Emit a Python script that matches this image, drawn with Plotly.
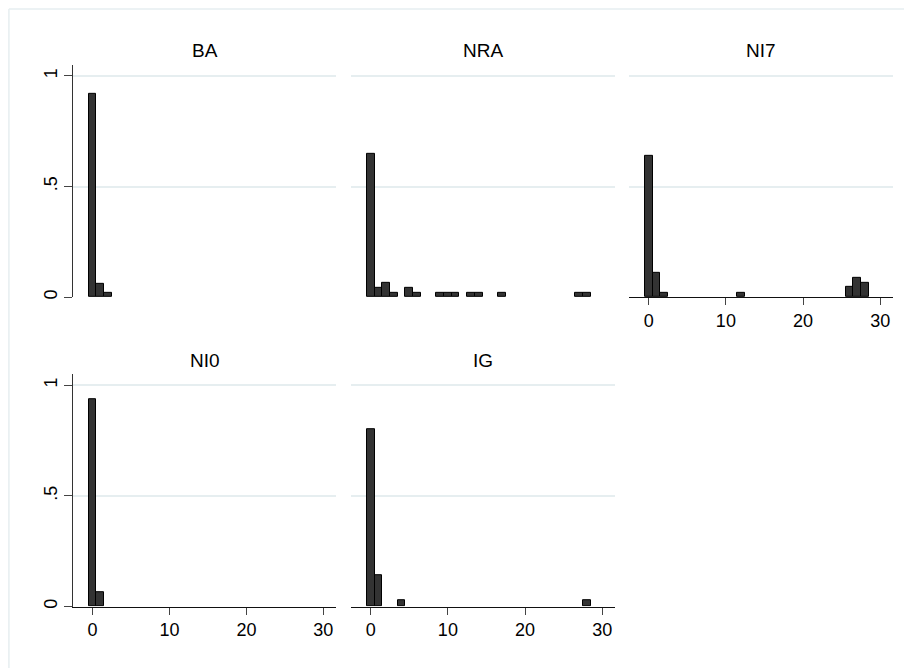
import plotly.graph_objects as go

# ---- data ----
panel_titles = ["BA", "NRA", "NI7", "NI0", "IG"]

ba_x = [0, 1, 2]
ba_y = [0.917, 0.062, 0.021]

nra_x = [0, 1, 2, 3, 5, 6, 9, 10, 11, 13, 14, 17, 27, 28]
nra_y = [0.646, 0.042, 0.0625, 0.021, 0.042, 0.021, 0.021, 0.021, 0.021,
         0.021, 0.021, 0.021, 0.021, 0.021]

ni7_x = [0, 1, 2, 12, 26, 27, 28]
ni7_y = [0.64, 0.109, 0.021, 0.021, 0.045, 0.087, 0.065]

ni0_x = [0, 1]
ni0_y = [0.9375, 0.0625]

ig_x = [0, 1, 4, 28]
ig_y = [0.80, 0.143, 0.029, 0.029]

x_ticks = [0, 10, 20, 30]
x_tick_labels = ["0", "10", "20", "30"]
y_ticks = [0, 0.5, 1]
y_tick_labels = ["0", ".5", "1"]

series = [(ba_x, ba_y), (nra_x, nra_y), (ni7_x, ni7_y), (ni0_x, ni0_y), (ig_x, ig_y)]

# ---- layout geometry (screen pixels; page body has an 8px offset) ----
W, H = 912, 668
OFF = 8
col_px = [(73, 336), (351, 615), (629, 893)]
row_px = [(65, 298), (375.3, 608.3)]  # top, bottom in screen pixels
positions = [(0, 0), (0, 1), (0, 2), (1, 0), (1, 1)]
show_x = [False, False, True, True, True]
show_y = [True, False, False, True, False]

FONT = "Liberation Sans, Arial, sans-serif"
GRID = "#e6eef0"
BAR_FILL = "#333333"


def px_x(v):
    return (v - OFF) / W


def px_y(v):
    return 1 - (v - OFF) / H


fig = go.Figure()
annotations = []
for i, ((r, c), (xs, ys)) in enumerate(zip(positions, series)):
    n = i + 1
    xa = "x" if n == 1 else f"x{n}"
    ya = "y" if n == 1 else f"y{n}"
    fig.add_trace(go.Bar(
        x=xs, y=ys, width=1, xaxis=xa, yaxis=ya,
        marker=dict(color=BAR_FILL, line=dict(color="#000000", width=1)),
        showlegend=False, hoverinfo="x+y",
    ))
    x0, x1 = col_px[c]
    t, b = row_px[r]
    xd = [px_x(x0), px_x(x1)]
    yd = [px_y(b), px_y(t)]
    xkey = "xaxis" if n == 1 else f"xaxis{n}"
    ykey = "yaxis" if n == 1 else f"yaxis{n}"
    fig.update_layout(**{
        xkey: dict(
            domain=xd, anchor=ya, range=[-2.55, 31.65],
            showgrid=False, zeroline=False,
            showline=show_x[i], linecolor="#111111", linewidth=1.2,
            ticks="outside" if show_x[i] else "", ticklen=7, tickwidth=1.2,
            tickcolor="#444444",
            tickvals=x_ticks, ticktext=x_tick_labels,
            showticklabels=show_x[i],
            tickfont=dict(family=FONT, size=18, color="#000000"),
            fixedrange=True,
        ),
        ykey: dict(
            domain=yd, anchor=xa, range=[0, 1.05],
            showgrid=True, gridcolor=GRID, gridwidth=1.5, zeroline=False,
            showline=show_y[i], linecolor="#333333", linewidth=1.2,
            ticks="outside" if show_y[i] else "", ticklen=8, tickwidth=1.2,
            tickcolor="#444444",
            tickvals=y_ticks, ticktext=y_tick_labels,
            showticklabels=show_y[i], tickangle=-90,
            tickfont=dict(family=FONT, size=18, color="#000000"),
            fixedrange=True,
        ),
    })
    annotations.append(dict(
        text=panel_titles[i], x=(xd[0] + xd[1]) / 2, y=px_y(t - 14),
        xref="paper", yref="paper", showarrow=False,
        xanchor="center", yanchor="middle",
        font=dict(family=FONT, size=19, color="#000000"),
    ))

shapes = [
    dict(type="line", xref="paper", yref="paper", x0=0.001, x1=1.02, y0=0.9985, y1=0.9985,
         line=dict(color=GRID, width=1.5)),
    dict(type="line", xref="paper", yref="paper", x0=0.001, x1=0.001, y0=-0.02, y1=0.9985,
         line=dict(color=GRID, width=1.5)),
]

fig.update_layout(
    width=W, height=H, margin=dict(l=0, r=0, t=0, b=0),
    paper_bgcolor="#ffffff", plot_bgcolor="#ffffff",
    bargap=0, annotations=annotations, shapes=shapes,
    font=dict(family=FONT, color="#000000"),
)

fig.write_html("out.html")
